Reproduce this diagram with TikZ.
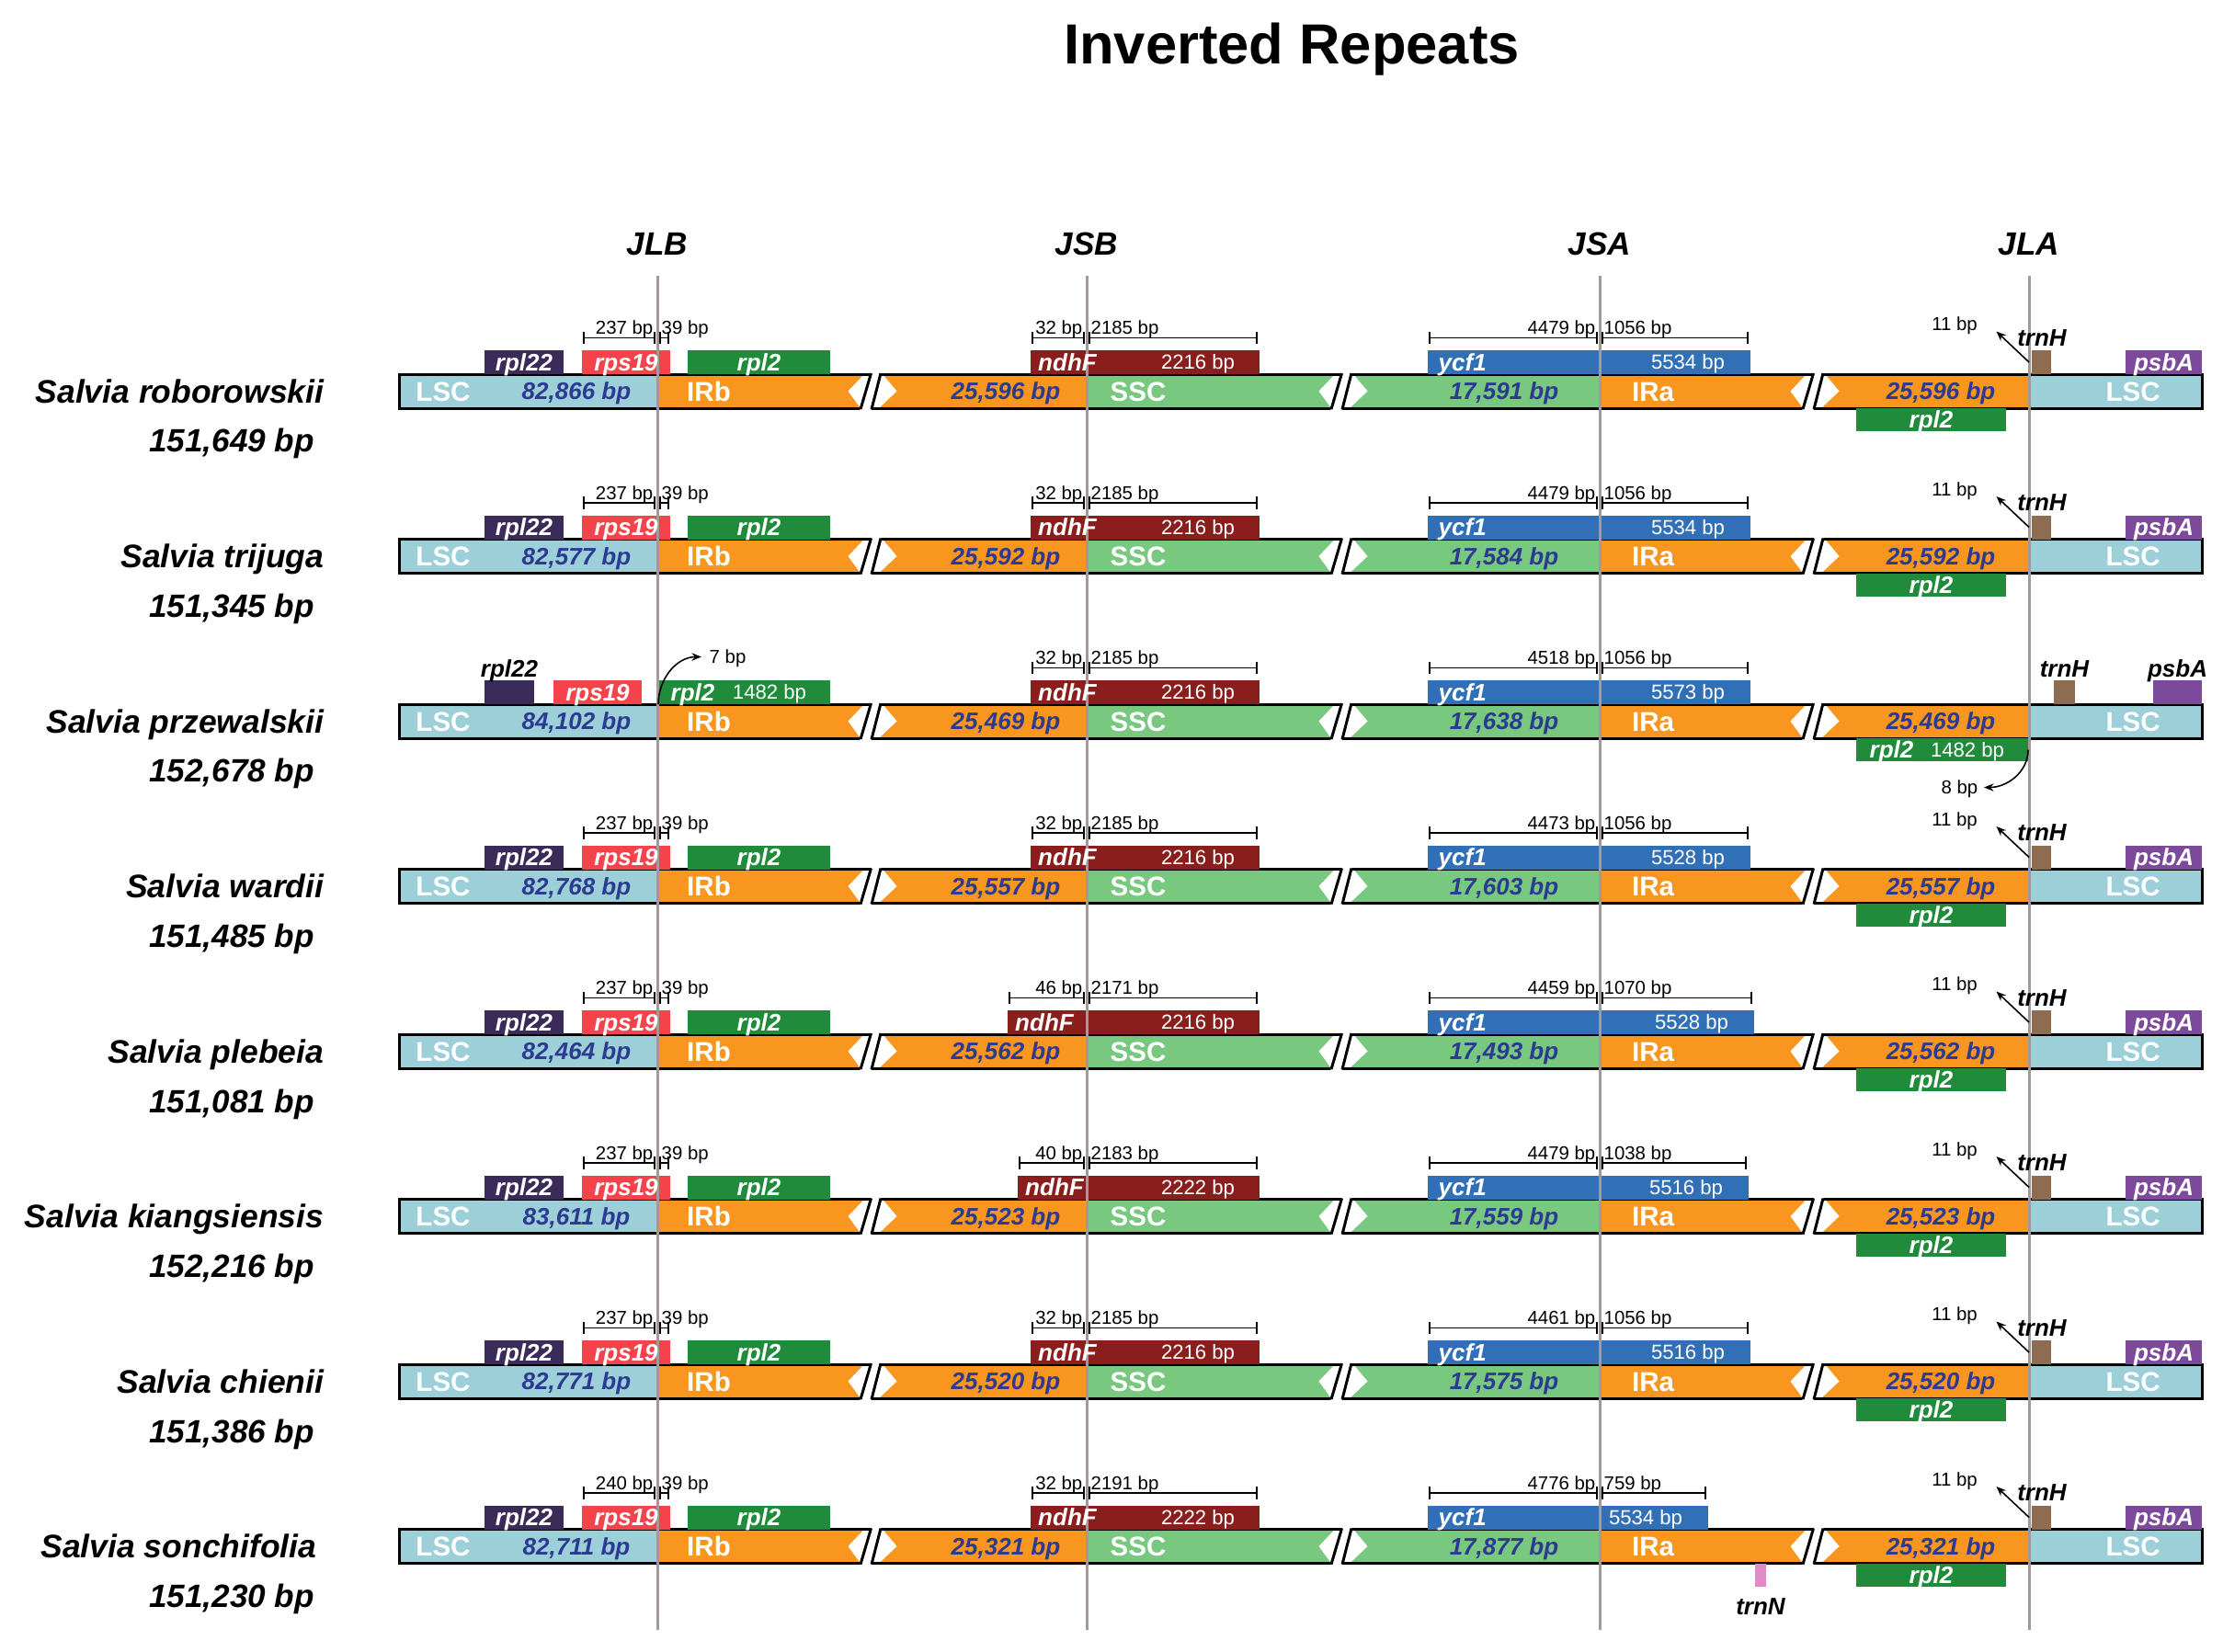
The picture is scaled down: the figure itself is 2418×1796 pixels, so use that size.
\documentclass[tikz,border=0pt]{standalone}
\usepackage{fontspec}
\setmainfont{Liberation Sans}
\usepackage{xcolor}
\usepackage{tikz}
\usetikzlibrary{arrows.meta, positioning, fit}
\definecolor{lscblue}{HTML}{9CCFD8}
\definecolor{irorange}{HTML}{F8961F}
\definecolor{sscgreen}{HTML}{78C87F}
\definecolor{rplpurple}{HTML}{3B2B58}
\definecolor{rpsred}{HTML}{F5434C}
\definecolor{rplgreen}{HTML}{1F8B3B}
\definecolor{ndhred}{HTML}{8A1E1C}
\definecolor{ycfblue}{HTML}{3170B6}
\definecolor{trnbrown}{HTML}{8D6C52}
\definecolor{psbpurple}{HTML}{7D4A9B}
\definecolor{trnpink}{HTML}{E08AC6}
\definecolor{bpblue}{HTML}{2C3A91}
\definecolor{jgray}{HTML}{A39999}
\pgfdeclarelayer{bars}
\pgfdeclarelayer{guides}
\pgfsetlayers{bars,guides,main}
\newcommand\fsz[1]{\fontsize{#1}{#1}\selectfont}
\tikzset{
  gbox/.style={rectangle,inner sep=0pt,outer sep=0pt,draw=none},
  ttl/.style={font=\fsz{17.5pt}\bfseries,inner sep=0pt},
  hdr/.style={font=\fsz{10pt}\bfseries\itshape,inner sep=0pt,text height=7.1pt,text depth=0pt},
  spname/.style={font=\fsz{10.1pt}\bfseries\itshape,inner sep=0pt,anchor=east,text height=7.2pt,text depth=0pt},
  sptot/.style={font=\fsz{10pt}\bfseries\itshape,inner sep=0pt,text height=7.1pt,text depth=0pt},
  segtxt/.style={text=white,font=\fsz{8.4pt}\bfseries,inner sep=0pt,text height=6pt,text depth=0pt},
  bptxt/.style={text=bpblue,font=\fsz{7.4pt}\bfseries\itshape,inner sep=0pt,text height=5.3pt,text depth=0pt},
  gname/.style={text=white,font=\fsz{7.4pt}\bfseries\itshape,inner sep=0pt,text height=5.3pt,text depth=0pt},
  gtag/.style={gname,text=black},
  glen/.style={text=white,font=\fsz{6.3pt},inner sep=0pt,text height=4.5pt,text depth=0pt},
  dimtxt/.style={font=\fsz{5.8pt},inner sep=0pt,text height=4.2pt,text depth=0pt},
  dimline/.style={{Bar[width=3.8pt]}-{Bar[width=3.8pt]},line width=0.45pt},
  ptarrow/.style={-{Stealth[length=3pt,width=2.4pt]},line width=0.45pt},
  barline/.style={draw=black,line width=0.85pt},
  brkline/.style={black,line width=0.85pt},
  jline/.style={jgray,line width=0.85pt},
}
\newcommand\upbox[4]{\node[gbox,fill=#2,fit={(#3,\yc-44.5) (#4,\yc-18.5)}] (#1) {};}
\newcommand\dnbox[4]{\node[gbox,fill=#2,fit={(#3,\yc+18.5) (#4,\yc+43.5)}] (#1) {};}
\newcommand\brk[1]{%
  \fill[white] (#1-26.5,\yc) -- (#1-9,\yc-18.5) -- (#1+11,\yc-18.5) -- (#1+26.5,\yc)
    -- (#1+7,\yc+18.5) -- (#1-13,\yc+18.5) -- cycle;}
\newcommand\brkcut[1]{%
  \fill[white] (#1-13.8,\yc+21) -- (#1-0.7,\yc-21) -- (#1+9.7,\yc-21) -- (#1-1.7,\yc+21) -- cycle;
  \draw[brkline] (#1-13,\yc+19.5) -- (#1-1.5,\yc-19.5) (#1-1,\yc+19.5) -- (#1+9,\yc-19.5);}
\newcommand\dimbar[6]{%
  \coordinate (#1a) at (#2,\yc-58);
  \coordinate (#1b) at (#3-2,\yc-58);
  \coordinate (#1c) at (#3+2,\yc-58);
  \coordinate (#1d) at (#4,\yc-58);
  \draw[dimline] (#1a) -- (#1b);
  \draw[dimline] (#1c) -- (#1d);
  \node[dimtxt,anchor=base east] (#1l) at (#3-4,\yc-62) {#5 bp};
  \node[dimtxt,anchor=base west] (#1r) at (#3+4,\yc-62) {#6 bp};}

\begin{document}
\begin{tikzpicture}[x=0.1mm,y=-0.1mm]
  \useasboundingbox (0,0) rectangle (2418,1796);
  \node[ttl] (title) at (1405,54) {Inverted Repeats};
  \foreach \x/\n in {715/JLB,1182/JSB,1740/JSA,2207/JLA}{
    \node[hdr] (h\n) at (\x,265) {\n};
    \coordinate (e\n) at (\x,1773);
    \begin{pgfonlayer}{guides}
      \draw[jline] ([yshift=-3.5mm]h\n.center) -- (e\n);
    \end{pgfonlayer}
  }
  \foreach \i/\spc/\tot/\lsc/\ir/\ssc/\jlbl/\ndx/\jsbl/\jsbr/\ndbp/\ycx/\jsal/\jsar/\ycbp in {
    1/roborowskii/{151,649}/{82,866}/{25,596}/{17,591}/237/1121/32/2185/2216/1904/4479/1056/5534,
    2/trijuga/{151,345}/{82,577}/{25,592}/{17,584}/237/1121/32/2185/2216/1904/4479/1056/5534,
    3/przewalskii/{152,678}/{84,102}/{25,469}/{17,638}/0/1121/32/2185/2216/1904/4518/1056/5573,
    4/wardii/{151,485}/{82,768}/{25,557}/{17,603}/237/1121/32/2185/2216/1904/4473/1056/5528,
    5/plebeia/{151,081}/{82,464}/{25,562}/{17,493}/237/1096/46/2171/2216/1908/4459/1070/5528,
    6/kiangsiensis/{152,216}/{83,611}/{25,523}/{17,559}/237/1107/40/2183/2222/1902/4479/1038/5516,
    7/chienii/{151,386}/{82,771}/{25,520}/{17,575}/237/1121/32/2185/2216/1904/4461/1056/5516,
    8/sonchifolia/{151,230}/{82,711}/{25,321}/{17,877}/240/1121/32/2191/2222/1858/4776/759/5534}{
    \pgfmathsetmacro\yc{425.5+179.5*(\i-1)}
    \pgfmathsetmacro\spx{\i==8 ? 345 : 353}
    \begin{pgfonlayer}{bars}
      \node[gbox,fill=lscblue,fit={(434,\yc-18.5) (715,\yc+18.5)}] (lsc\i) {};
      \node[gbox,fill=irorange,fit={(715,\yc-18.5) (1182,\yc+18.5)}] (irb\i) {};
      \node[gbox,fill=sscgreen,fit={(1182,\yc-18.5) (1740,\yc+18.5)}] (ssc\i) {};
      \node[gbox,fill=irorange,fit={(1740,\yc-18.5) (2207,\yc+18.5)}] (ira\i) {};
      \node[gbox,fill=lscblue,fit={(2207,\yc-18.5) (2395,\yc+18.5)}] (lsr\i) {};
      \foreach \b in {949,1461,1974} {\brk{\b}}
      \draw[barline] (lsc\i.north west) rectangle (lsr\i.south east);
      \foreach \b in {949,1461,1974} {\brkcut{\b}}
      \ifnum\i=3
        \upbox{rplv\i}{rplpurple}{527}{581}
        \upbox{rps\i}{rpsred}{602}{698}
        \upbox{rpl\i}{rplgreen}{716}{903}
        \upbox{trnh\i}{trnbrown}{2234}{2257}
        \upbox{psba\i}{psbpurple}{2342}{2395}
        \dnbox{rplb\i}{rplgreen}{2019}{2206}
      \else
        \upbox{rplv\i}{rplpurple}{527}{613}
        \upbox{rps\i}{rpsred}{633}{729}
        \upbox{rpl\i}{rplgreen}{748}{903}
        \upbox{trnh\i}{trnbrown}{2210}{2231}
        \upbox{psba\i}{psbpurple}{2312}{2395}
        \dnbox{rplb\i}{rplgreen}{2019}{2182}
      \fi
      \upbox{ndh\i}{ndhred}{\ndx}{1370}
      \upbox{ycf\i}{ycfblue}{1553}{\ycx}
      \ifnum\i=8 \dnbox{trnn\i}{trnpink}{1909}{1921}\fi
    \end{pgfonlayer}
    \node[spname] (sp\i) at (\spx,\yc) {Salvia \spc};
    \node[sptot] (tot\i) at (252,\yc+54) {\tot\ bp};
    \node[segtxt] (tl\i) at (482,\yc) {LSC};
    \node[bptxt] (nl\i) at (627,\yc) {\lsc\ bp};
    \node[segtxt] (tb\i) at (771,\yc) {IRb};
    \node[bptxt] (nb\i) at (1094,\yc) {\ir\ bp};
    \node[segtxt] (ts\i) at (1238,\yc) {SSC};
    \node[bptxt] (ns\i) at (1636,\yc) {\ssc\ bp};
    \node[segtxt] (ta\i) at (1798,\yc) {IRa};
    \node[bptxt] (na\i) at (2111,\yc) {\ir\ bp};
    \node[segtxt] (tr\i) at (2320,\yc) {LSC};
    \node[gname,anchor=west] (gn\i) at ([xshift=0.75mm]ndh\i.west) {ndhF};
    \node[glen] (gnl\i) at (1303,\yc-31.5) {\ndbp\ bp};
    \node[gname,anchor=west] (gy\i) at ([xshift=1.1mm]ycf\i.west) {ycf1};
    \node[glen] (gyl\i) at (\ycx-68,\yc-31.5) {\ycbp\ bp};
    \dimbar{jsb\i}{\ndx+1}{1182}{1368}{\jsbl}{\jsbr}
    \dimbar{jsa\i}{1554}{1740}{\ycx-2}{\jsal}{\jsar}
    \ifnum\i=3
      \node[gtag] (gv\i) at ([yshift=1.25mm]rplv\i.north) {rpl22};
      \node[gname] (gs\i) at (rps\i) {rps19};
      \node[gname,anchor=west] (gp\i) at ([xshift=1.3mm]rpl\i.west) {rpl2};
      \node[glen] (gpl\i) at (837,\yc-31.5) {1482 bp};
      \node[dimtxt,anchor=west] (sv\i) at (771,\yc-70) {7 bp};
      \draw[ptarrow] (rpl\i.south west) to[out=90,in=180] ([xshift=-0.8mm]sv\i.west);
      \node[gtag] (gh\i) at ([yshift=1.3mm]trnh\i.north) {trnH};
      \node[gtag] (ga\i) at ([yshift=1.3mm]psba\i.north) {psbA};
      \node[gname,anchor=west] (gq\i) at ([xshift=1.4mm]rplb\i.west) {rpl2};
      \node[glen] (gql\i) at (2140,\yc+31) {1482 bp};
      \node[dimtxt,anchor=east] (ev\i) at (2152,\yc+72) {8 bp};
      \draw[ptarrow] (rplb\i.east) to[out=-90,in=0] ([xshift=0.6mm]ev\i.east);
    \else
      \node[gname] (gv\i) at (rplv\i) {rpl22};
      \node[gname] (gs\i) at (rps\i) {rps19};
      \node[gname] (gp\i) at (rpl\i) {rpl2};
      \node[gname] (ga\i) at (psba\i) {psbA};
      \node[gname] (gq\i) at (rplb\i) {rpl2};
      \node[gtag] (gh\i) at (2221,\yc-58.5) {trnH};
      \node[dimtxt] (ev\i) at (2126,\yc-73) {11 bp};
      \draw[ptarrow] ([xshift=-0.3mm]trnh\i.west) -- ([xshift=2mm,yshift=-0.8mm]ev\i.east);
      \dimbar{jlb\i}{634}{715}{728}{\jlbl}{39}
    \fi
    \ifnum\i=8 \node[gtag] (gt\i) at ([yshift=-2.15mm]trnn\i.south) {trnN};\fi
  }
\end{tikzpicture}
\end{document}
